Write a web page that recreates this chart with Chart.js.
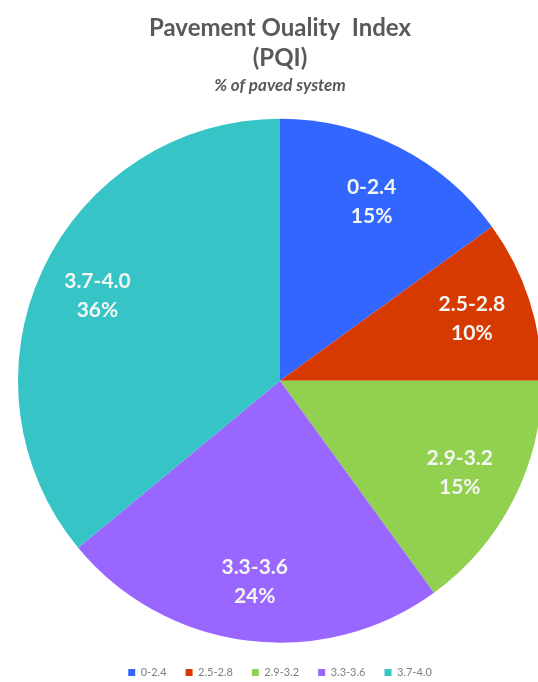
<!DOCTYPE html>
<html>
<head>
<meta charset="utf-8">
<script src="https://cdn.jsdelivr.net/npm/chart.js@4/dist/chart.umd.min.js"></script>
<style>
  html, body { margin: 0; padding: 0; background: #fff; overflow: hidden; }
  #chart { display: block; }
</style>
</head>
<body>
<canvas id="chart" width="560" height="688"></canvas>
<script>
var ctx = document.getElementById('chart').getContext('2d');

// pavement quality index ranges and share of paved system (%)
var labels = ['0-2.4', '2.5-2.8', '2.9-3.2', '3.3-3.6', '3.7-4.0'];
var shares = [15, 10, 15, 24, 36];
var colors = ['#3366FF', '#D63A00', '#92D050', '#9966FF', '#36C4C6'];

// draws "range / xx%" inside each slice
var sliceLabels = {
  id: 'sliceLabels',
  afterDatasetsDraw: function(chart) {
    var meta = chart.getDatasetMeta(0);
    var c = chart.ctx;
    c.save();
    c.font = "bold 21px Lato";
    c.fillStyle = '#F4F6F4';
    c.textAlign = 'center';
    c.textBaseline = 'middle';
    meta.data.forEach(function(arc, i) {
      var p = arc.getProps(['x', 'y', 'startAngle', 'endAngle', 'outerRadius']);
      var mid = (p.startAngle + p.endAngle) / 2;
      var r = p.outerRadius * 0.77;
      var x = p.x + Math.cos(mid) * r;
      var y = p.y + Math.sin(mid) * r;
      c.fillText(labels[i], x, y - 14);
      c.fillText(shares[i] + '%', x, y + 15);
    });
    c.restore();
  }
};

var myChart = new Chart(ctx, {
  type: 'pie',
  data: {
    labels: labels,
    datasets: [{
      data: shares,
      backgroundColor: colors,
      borderWidth: 0
    }]
  },
  options: {
    responsive: false,
    animation: false,
    layout: { padding: { left: 18, right: 18 } },
    plugins: {
      tooltip: { enabled: false },
      title: {
        display: true,
        text: ['Pavement Ouality  Index', '(PQI)'],
        color: '#595959',
        font: { family: 'Lato', size: 24, weight: 'bold', lineHeight: 1.27 },
        padding: { top: 13, bottom: 0 }
      },
      subtitle: {
        display: true,
        text: '% of paved system',
        color: '#595959',
        font: { family: 'Lato', size: 17, weight: 'bold', style: 'italic', lineHeight: 1.2 },
        padding: { top: 1, bottom: 18 }
      },
      legend: {
        position: 'bottom',
        labels: {
          boxWidth: 7,
          boxHeight: 7,
          padding: 19,
          color: '#808080',
          font: { family: 'Lato', size: 11 }
        }
      }
    }
  },
  plugins: [sliceLabels]
});
</script>
</body>
</html>
